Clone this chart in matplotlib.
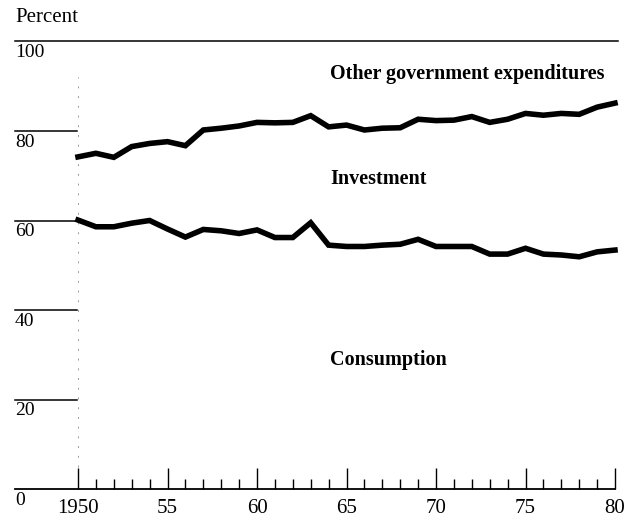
import matplotlib
matplotlib.use("Agg")
from matplotlib import pyplot as plt
import numpy as np

plt.rcParams['font.family'] = ['Liberation Serif', 'DejaVu Serif']

# Jahre 1950-1980
jahre = list(range(1950, 1981))

# obere Linie: Konsum + Investition (Prozent)
konsum_plus_invest = [74.2, 75.0, 74.1, 76.5, 77.2, 77.6, 76.7, 80.2, 80.6, 81.1,
                      81.9, 81.8, 81.9, 83.4, 80.9, 81.3, 80.2, 80.6, 80.7, 82.6,
                      82.3, 82.4, 83.2, 81.9, 82.6, 83.9, 83.5, 83.9, 83.7, 85.3,
                      86.2]

# untere Linie: Konsum (Prozent)
konsum = [60.1, 58.6, 58.6, 59.4, 60.0, 58.1, 56.3, 58.0, 57.7, 57.1,
          57.9, 56.2, 56.2, 59.5, 54.5, 54.2, 54.2, 54.5, 54.7, 55.8,
          54.2, 54.2, 54.2, 52.5, 52.5, 53.8, 52.5, 52.3, 51.9, 53.0,
          53.4]

y_werte = [0, 20, 40, 60, 80, 100]
y_labels = ["0", "20", "40", "60", "80", "100"]
x_major = [1950, 1955, 1960, 1965, 1970, 1975, 1980]
x_labels = ["1950", "55", "60", "65", "70", "75", "80"]

bereich_texte = ["Other government expenditures", "Investment", "Consumption"]
bereich_y = [92.8, 69.3, 28.8]

W, H = 627, 517
fig = plt.figure(figsize=(W / 100, H / 100), dpi=100)
ax = fig.add_axes([15 / W, (H - 489.3) / H, 603 / W, 448 / H])
x_links = 1950 - 63 / 17.9
x_rechts = 1980 + 3 / 17.9
ax.set_xlim(x_links, x_rechts)
ax.set_ylim(0, 100)
for s in ax.spines.values():
    s.set_visible(False)

# waagerechte Linien
for v in y_werte:
    if v == 100:
        ax.plot([x_links, x_rechts], [v, v], color="black", lw=1.1, clip_on=False)
    elif v == 0:
        ax.plot([x_links, 1980], [v, v], color="black", lw=1.3, clip_on=False)
    else:
        ax.plot([x_links, 1949.95], [v, v], color="black", lw=1.1, clip_on=False)
for v, lab in zip(y_werte, y_labels):
    ax.text(x_links, v - 0.6, lab, ha="left", va="top", fontsize=14)

# schwache gestrichelte Linie bei 1950
ax.plot([1950, 1950], [5, 92], color="#999999", lw=0.7, ls=(0, (2, 8)))

ax.plot(jahre, konsum_plus_invest, color="black", lw=4.0, solid_joinstyle="miter", clip_on=False)
ax.plot(jahre, konsum, color="black", lw=4.0, solid_joinstyle="miter", clip_on=False)

# Achsenstriche
ax.set_xticks(x_major)
ax.set_xticklabels(x_labels, fontsize=15)
ax.set_xticks([j for j in jahre if j not in x_major], minor=True)
ax.tick_params(axis="x", which="major", direction="in", length=15, width=1.0, pad=7)
ax.tick_params(axis="x", which="minor", direction="in", length=7, width=1.0)
ax.set_yticks([])

for txt, yy in zip(bereich_texte, bereich_y):
    ax.text(1964.1, yy, txt, ha="left", va="center", fontsize=14.5, fontweight="bold")

fig.text(15 / W, 1 - 17 / H, "Percent", ha="left", va="center", fontsize=15)

fig.savefig("out.png", dpi=100)
